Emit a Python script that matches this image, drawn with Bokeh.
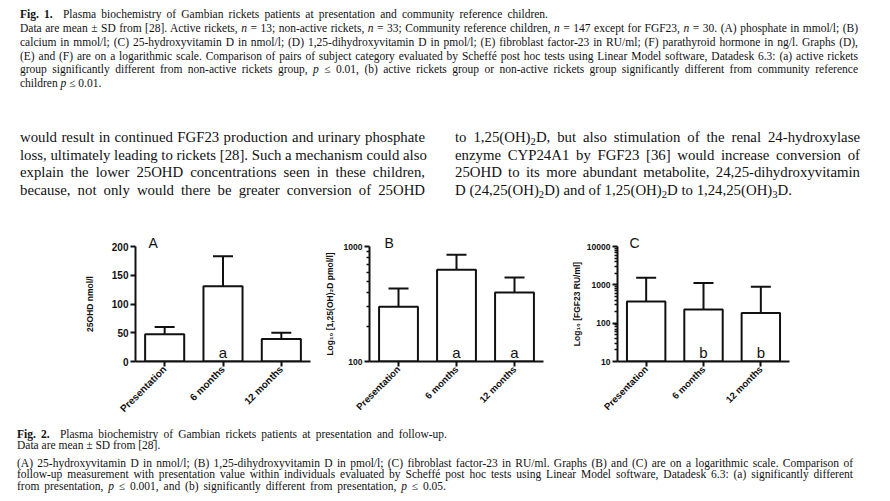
import math
from bokeh.plotting import figure
from bokeh.models import (ColumnDataSource, FactorRange, Range1d, FixedTicker, Whisker,
                          TeeHead, Div, PrintfTickFormatter)
from bokeh.layouts import column, row
from bokeh.embed import file_html
from bokeh.resources import INLINE
from bokeh.core.properties import value

# ---------------- data ----------------
categories = ["Presentation", "6 months", "12 months"]
vitd_mean = [47.6, 131, 39]          # 25OHD nmol/l
vitd_upper = [60, 183, 50]
calcitriol_mean = [299, 627, 398]    # 1,25(OH)2D pmol/l
calcitriol_upper = [431, 847, 537]
fgf23_mean = [367, 227, 183]         # FGF23 RU/ml
fgf23_upper = [1528, 1110, 889]
sig_a = ["", "a", ""]
sig_b = ["", "a", "a"]
sig_c = ["", "b", "b"]
ticks_a = [0, 50, 100, 150, 200]
ticks_b = [100, 1000]
ticks_c = [10, 100, 1000, 10000]

SANS = "Liberation Sans"
SERIF = "'Liberation Serif', 'Times New Roman', serif"
INK = "#111111"

TOP_H = 228
BORDER_TOP = 18
FRAME_H = 115
BORDER_BOTTOM = 58
BOT_Y = TOP_H + BORDER_TOP + FRAME_H + BORDER_BOTTOM
BOT_H = 80


def decade_minors(lo, hi):
    out = []
    d = lo
    while d < hi:
        out += [m * d for m in range(2, 10)]
        d *= 10
    return out


def make_panel(letter, means, uppers, sigs, ylabel, ystart, yend, ticks, log,
               frame_w, b_left, b_right, letter_off, tick_size, cat_size, lab_standoff):
    src = ColumnDataSource(dict(cat=categories, mean=means, upper=uppers, sig=sigs))
    p = figure(x_range=FactorRange(*categories, range_padding=0),
               y_range=Range1d(ystart, yend),
               y_axis_type="log" if log else "linear",
               frame_width=frame_w, frame_height=FRAME_H,
               min_border_left=b_left, min_border_right=b_right,
               min_border_top=BORDER_TOP, min_border_bottom=BORDER_BOTTOM,
               output_backend="svg", toolbar_location=None, tools="",
               background_fill_color="white", border_fill_color="white")
    p.outline_line_color = None
    p.grid.visible = False
    p.vbar(x="cat", top="mean", bottom=ystart, width=0.67, source=src,
           fill_color="white", line_color=INK, line_width=2)
    p.add_layout(Whisker(source=src, base="cat", lower="mean", upper="upper",
                         line_color=INK, line_width=2,
                         upper_head=TeeHead(size=20, line_color=INK, line_width=2),
                         lower_head=None))
    p.text(x="cat", y=ystart, text="sig", source=src, text_align="center",
           text_baseline="middle", y_offset=-9, text_font=value(SANS),
           text_font_size="15px", text_color=INK)
    # panel letter as title
    p.title.text = letter
    p.title.align = "left"
    p.title.offset = letter_off
    p.title.standoff = -8
    p.title.text_font = SANS
    p.title.text_font_size = "14px"
    p.title.text_font_style = "normal"
    p.title.text_color = INK
    for ax in (p.xaxis[0], p.yaxis[0]):
        ax.axis_line_width = 2
        ax.axis_line_color = INK
        ax.major_tick_line_width = 2
        ax.major_tick_line_color = INK
        ax.major_tick_in = 0
        ax.major_tick_out = 5
        ax.minor_tick_in = 0
        ax.minor_tick_out = 3
        ax.minor_tick_line_width = 1.5
        ax.minor_tick_line_color = INK
        ax.major_label_text_font = SANS
        ax.major_label_text_font_style = "bold"
        ax.major_label_text_color = INK
    ya = p.yaxis[0]
    ya.ticker = FixedTicker(ticks=ticks, minor_ticks=decade_minors(ystart, yend) if log else [])
    ya.formatter = PrintfTickFormatter(format="%d")
    ya.major_label_text_font_size = tick_size
    ya.major_label_standoff = 2
    ya.axis_label = ylabel
    ya.axis_label_text_font = SANS
    ya.axis_label_text_font_style = "bold"
    ya.axis_label_text_font_size = "8.5px"
    ya.axis_label_text_color = INK
    ya.axis_label_standoff = lab_standoff
    xa = p.xaxis[0]
    xa.major_label_orientation = math.pi / 4
    xa.major_label_text_font_size = cat_size
    xa.major_label_standoff = 1
    return p


pA = make_panel("A", vitd_mean, vitd_upper, sig_a, "25OHD nmol/l", 0, 200, ticks_a, False,
                175, 135, 5, 13, "10px", "10px", 14)
pB = make_panel("B", calcitriol_mean, calcitriol_upper, sig_b,
                "Log\u2081\u2080 [1,25(OH)\u2082D pmol/l]", 100, 1000, ticks_b, True,
                174, 54, 5, 15, "8.5px", "9.5px", 6)
pC = make_panel("C", fgf23_mean, fgf23_upper, sig_c, "Log\u2081\u2080 [FGF23 RU/ml]",
                10, 10000, ticks_c, True, 172, 69, 5, 12, "8.5px", "9.5px", 2)


# ---------------- text blocks ----------------
def sub(d):
    return f'<span style="font-size:0.72em;position:relative;top:0.28em;">{d}</span>'


def line(content, x, baseline, size, origin_y, width=None):
    top = baseline - origin_y - 0.84 * size
    style = (f"position:absolute;left:{x:.1f}px;top:{top:.1f}px;white-space:nowrap;"
             f"font-size:{size}px;line-height:{size}px;")
    if width:
        style += f"width:{width}px;text-align:justify;text-align-last:justify;"
    return f'<div style="{style}">{content}</div>'


n = "<i>n</i>"
pp = "<i>p</i>"
fig1_lines = [
    ("<b>Fig. 1.</b>&nbsp; Plasma biochemistry of Gambian rickets patients at presentation and community reference children.", 528),
    (f"Data are mean ± SD from [28]. Active rickets, {n} = 13; non-active rickets, {n} = 33; Community reference children, {n} = 147 except for FGF23, {n} = 30. (A) phosphate in mmol/l; (B)", 838),
    ("calcium in mmol/l; (C) 25-hydroxyvitamin D in nmol/l; (D) 1,25-dihydroxyvitamin D in pmol/l; (E) fibroblast factor-23 in RU/ml; (F) parathyroid hormone in ng/l. Graphs (D),", 838),
    ("(E) and (F) are on a logarithmic scale. Comparison of pairs of subject category evaluated by Scheffé post hoc tests using Linear Model software, Datadesk 6.3: (a) active rickets", 838),
    (f"group significantly different from non-active rickets group, {pp} ≤ 0.01, (b) active rickets group or non-active rickets group significantly different from community reference", 838),
    (f"children {pp} ≤ 0.01.", None),
]
fig1_base = [18.5, 32.7, 46.5, 60.3, 74.0, 87.6]

left_col = [
    "would result in continued FGF23 production and urinary phosphate",
    "loss, ultimately leading to rickets [28]. Such a mechanism could also",
    "explain the lower 25OHD concentrations seen in these children,",
    "because, not only would there be greater conversion of 25OHD",
]
right_col = [
    f"to 1,25(OH){sub(2)}D, but also stimulation of the renal 24-hydroxylase",
    "enzyme CYP24A1 by FGF23 [36] would increase conversion of",
    "25OHD to its more abundant metabolite, 24,25-dihydroxyvitamin",
    f"D (24,25(OH){sub(2)}D) and of 1,25(OH){sub(2)}D to 1,24,25(OH){sub(3)}D.",
]
para_base = [142.5, 160.3, 177.8, 195.3]

CAP = 11.5
PARA = 14.8
parts = []
for (txt, w), b in zip(fig1_lines, fig1_base):
    parts.append(line(txt, 20, b, CAP, 0, w))
for txt, b in zip(left_col, para_base):
    parts.append(line(txt, 20, b, PARA, 0, 405))
for i, (txt, b) in enumerate(zip(right_col, para_base)):
    parts.append(line(txt, 455, b, PARA, 0, 405 if i < 3 else None))
top_html = (f'<div style="position:relative;width:874px;height:{TOP_H}px;'
            f'font-family:{SERIF};color:{INK};">' + "".join(parts) + "</div>")

fig2_lines = [
    ("<b>Fig. 2.</b>&nbsp; Plasma biochemistry of Gambian rickets patients at presentation and follow-up.", 430),
    ("Data are mean ± SD from [28].", None),
    ("(A) 25-hydroxyvitamin D in nmol/l; (B) 1,25-dihydroxyvitamin D in pmol/l; (C) fibroblast factor-23 in RU/ml. Graphs (B) and (C) are on a logarithmic scale. Comparison of", 836),
    ("follow-up measurement with presentation value within individuals evaluated by Scheffé post hoc tests using Linear Model software, Datadesk 6.3: (a) significantly different", 836),
    (f"from presentation, {pp} ≤ 0.001, and (b) significantly different from presentation, {pp} ≤ 0.05.", 429),
]
fig2_base = [436.7, 447.7, 465.7, 477.0, 489.0]
parts2 = []
for (txt, w), b in zip(fig2_lines, fig2_base):
    parts2.append(line(txt, 17, b, CAP, BOT_Y, w))
bot_html = (f'<div style="position:relative;width:874px;height:{BOT_H}px;'
            f'font-family:{SERIF};color:{INK};">' + "".join(parts2) + "</div>")

top_div = Div(text=top_html, width=874, height=TOP_H, margin=(0, 0, 0, 0))
bot_div = Div(text=bot_html, width=874, height=BOT_H, margin=(0, 0, 0, 0))

layout = column(top_div, row(pA, pB, pC, spacing=0), bot_div, spacing=0)

open("out.html", "w").write(file_html(layout, INLINE, title="Fig. 2"))
